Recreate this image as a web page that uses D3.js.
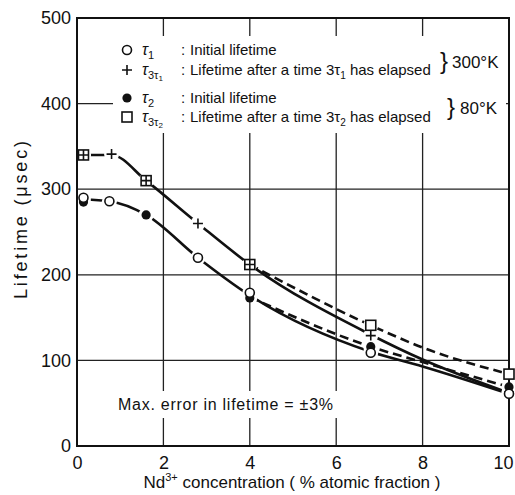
<!DOCTYPE html>
<html><head><meta charset="utf-8">
<script src="https://cdn.jsdelivr.net/npm/d3@7"></script>
<style>
html,body{margin:0;padding:0;background:#fff;}
text{font-family:"Liberation Sans",Arial,sans-serif;fill:#111;}
</style></head>
<body>
<svg id="chart" width="515" height="495"></svg>
<script>
// ---------- data ----------
const xTicks = [0, 2, 4, 6, 8, 10];
const yTicks = [0, 100, 200, 300, 400, 500];
// tau1 : initial lifetime, 300K (open circle)
const tau1X = [0.15, 0.75, 2.8, 4, 6.8, 10];
const tau1Y = [290, 286, 220, 179, 109, 61];
// tau2 : initial lifetime, 80K (filled circle)
const tau2X = [0.15, 1.6, 4, 6.8, 10];
const tau2Y = [285, 270, 173, 116, 69];
// tau_3tau1 : after 3 tau1, 300K (plus)
const tau3t1X = [0.15, 0.8, 1.6, 2.8, 4, 6.8, 10];
const tau3t1Y = [340, 341, 310, 260, 212, 129, 63];
// tau_3tau2 : after 3 tau2, 80K (square)
const tau3t2X = [0.15, 1.6, 4, 6.8, 10];
const tau3t2Y = [340, 310, 212, 141, 84];
// fitted curves
const upperSolidX = [0.15, 0.8, 1.6, 2.8, 4, 6.8, 8, 10];
const upperSolidY = [340, 340, 310, 260, 212, 130, 101, 62];
const upperDashX = [4, 6.8, 8, 10];
const upperDashY = [212, 141, 115, 84];
const lowerSolidX = [0.15, 0.75, 1.6, 2.8, 4, 6.8, 8, 10];
const lowerSolidY = [288, 286, 270, 220, 176, 110, 93, 61];
const lowerDashX = [4, 6.8, 8, 10];
const lowerDashY = [174, 116, 98, 69];

const zip = (xs, ys) => xs.map((x, i) => [x, ys[i]]);

// ---------- layout ----------
const svg = d3.select("#chart");
const L = 77, R = 509, T = 18, B = 446;
const x = d3.scaleLinear().domain([0, 10]).range([L, R]);
const y = d3.scaleLinear().domain([0, 500]).range([B, T]);

// grid
const grid = svg.append("g").attr("stroke", "#222").attr("stroke-width", 1.3);
grid.selectAll("line.v").data(xTicks.slice(1, -1)).join("line")
  .attr("x1", d => x(d)).attr("x2", d => x(d)).attr("y1", T).attr("y2", B);
grid.selectAll("line.h").data(yTicks.slice(1, -1)).join("line")
  .attr("y1", d => y(d)).attr("y2", d => y(d)).attr("x1", L).attr("x2", R);

// blank areas behind legend and note
svg.append("rect").attr("x", 113).attr("y", 36).attr("width", 393).attr("height", 97).attr("fill", "#fff");
svg.append("rect").attr("x", 112).attr("y", 391).attr("width", 226).attr("height", 27).attr("fill", "#fff");

// axes (d3 axes, styled)
const xAxis = svg.append("g").attr("transform", `translate(0,${B})`)
  .call(d3.axisBottom(x).tickValues(xTicks).tickSize(0).tickPadding(10).tickFormat(d3.format("d")));
const yAxis = svg.append("g").attr("transform", `translate(${L},0)`)
  .call(d3.axisLeft(y).tickValues(yTicks).tickSize(0).tickPadding(6).tickFormat(d3.format("d")));
[xAxis, yAxis].forEach(a => {
  a.select(".domain").remove();
  a.selectAll("text").attr("font-size", 18).attr("font-family", "Liberation Sans, Arial, sans-serif").attr("fill", "#111");
});
// keep the last x label inside the picture
xAxis.selectAll(".tick").filter(d => d === 10).select("text").attr("text-anchor", "end").attr("x", 4);
// frame
svg.append("rect").attr("x", L).attr("y", T).attr("width", R - L).attr("height", B - T)
  .attr("fill", "none").attr("stroke", "#111").attr("stroke-width", 2);

// ---------- mask for gaps around markers ----------
const allPts = [].concat(zip(tau1X, tau1Y), zip(tau2X, tau2Y), zip(tau3t1X, tau3t1Y), zip(tau3t2X, tau3t2Y));
const defs = svg.append("defs");
const mask = defs.append("mask").attr("id", "gaps").attr("maskUnits", "userSpaceOnUse")
  .attr("x", 0).attr("y", 0).attr("width", 515).attr("height", 495);
mask.append("rect").attr("width", 515).attr("height", 495).attr("fill", "#fff");
mask.selectAll("circle").data(allPts).join("circle")
  .attr("cx", d => x(d[0])).attr("cy", d => y(d[1])).attr("r", 7.5).attr("fill", "#000");

// ---------- curves ----------
const line = d3.line().x(d => x(d[0])).y(d => y(d[1])).curve(d3.curveMonotoneX);
const curves = svg.append("g").attr("mask", "url(#gaps)")
  .attr("fill", "none").attr("stroke", "#111").attr("stroke-width", 2.6);
curves.append("path").attr("d", line(zip(upperSolidX, upperSolidY)));
curves.append("path").attr("d", line(zip(lowerSolidX, lowerSolidY)));
curves.append("path").attr("d", line(zip(upperDashX, upperDashY))).attr("stroke-dasharray", "9,5");
curves.append("path").attr("d", line(zip(lowerDashX, lowerDashY))).attr("stroke-dasharray", "9,5");

// ---------- markers ----------
function square(g, cx, cy) {
  g.append("rect").attr("x", cx - 5).attr("y", cy - 5).attr("width", 10).attr("height", 10)
    .attr("fill", "#fff").attr("stroke", "#111").attr("stroke-width", 1.6);
}
function plus(g, cx, cy) {
  g.append("path").attr("d", `M${cx - 5},${cy}H${cx + 5}M${cx},${cy - 5}V${cy + 5}`)
    .attr("stroke", "#111").attr("stroke-width", 1.6);
}
function openC(g, cx, cy) {
  g.append("circle").attr("cx", cx).attr("cy", cy).attr("r", 4.5)
    .attr("fill", "#fff").attr("stroke", "#111").attr("stroke-width", 1.6);
}
function fillC(g, cx, cy) {
  g.append("circle").attr("cx", cx).attr("cy", cy).attr("r", 4.6).attr("fill", "#111");
}
const mk = svg.append("g");
zip(tau3t2X, tau3t2Y).forEach(d => square(mk, x(d[0]), y(d[1])));
zip(tau3t1X, tau3t1Y).forEach(d => plus(mk, x(d[0]), y(d[1])));
zip(tau2X, tau2Y).forEach(d => fillC(mk, x(d[0]), y(d[1])));
zip(tau1X, tau1Y).forEach(d => openC(mk, x(d[0]), y(d[1])));

// ---------- legend ----------
const legRows = [50, 70, 98, 117];
const legSyms = ["open", "plus", "filled", "square"];
const lg = svg.append("g");
legSyms.forEach((s, i) => {
  const cx = 127, cy = legRows[i];
  if (s === "open") openC(lg, cx, cy);
  if (s === "plus") plus(lg, cx, cy);
  if (s === "filled") fillC(lg, cx, cy);
  if (s === "square") square(lg, cx, cy);
});
const legSub = ["1", "3τ", "2", "3τ"];
const legSubSub = ["", "1", "", "2"];
const legText = [["Initial lifetime", ""], ["Lifetime after a time 3τ", "1", " has elapsed"],
                 ["Initial lifetime", ""], ["Lifetime after a time 3τ", "2", " has elapsed"]];
legRows.forEach((ry, i) => {
  const t = lg.append("text").attr("x", 142).attr("y", ry + 5).attr("font-size", 16);
  t.append("tspan").text("τ").attr("font-style", "italic");
  t.append("tspan").text(legSub[i]).attr("font-size", 11).attr("dy", 4);
  if (legSubSub[i]) t.append("tspan").text(legSubSub[i]).attr("font-size", 8).attr("dy", 2);
  const u = lg.append("text").attr("x", 181).attr("y", ry + 5).attr("font-size", 15);
  u.append("tspan").text(": ");
  u.append("tspan").text(legText[i][0]).attr("x", 190);
  if (legText[i].length > 2) {
    u.append("tspan").text(legText[i][1]).attr("font-size", 10).attr("dy", 4);
    u.append("tspan").text(legText[i][2]).attr("dy", -4);
  }
});
// braces and temperatures
const tempLabels = ["300°K", "80°K"];
const braceX = [440, 447], braceY = [62, 108], tempX = [452, 460];
tempLabels.forEach((t, i) => {
  svg.append("text").attr("x", braceX[i]).attr("y", braceY[i] + 7).attr("font-size", 24)
    .attr("font-weight", 300).text("}");
  svg.append("text").attr("x", tempX[i]).attr("y", braceY[i] + 6).attr("font-size", 17).text(t);
});

// note
svg.append("text").attr("x", 118).attr("y", 410).attr("font-size", 16)
  .attr("textLength", 215).attr("lengthAdjust", "spacing").text("Max. error in lifetime = ±3%");

// axis titles
const xt = svg.append("text").attr("x", 292).attr("y", 488).attr("text-anchor", "middle").attr("font-size", 17);
xt.append("tspan").text("Nd");
xt.append("tspan").text("3+").attr("font-size", 11).attr("dy", -7);
xt.append("tspan").text(" concentration ( % atomic fraction )").attr("dy", 7);
svg.append("text").attr("transform", "translate(27,220) rotate(-90)").attr("text-anchor", "middle")
  .attr("font-size", 18).attr("textLength", 158).attr("lengthAdjust", "spacing").text("Lifetime (μsec)");
</script>
</body></html>
